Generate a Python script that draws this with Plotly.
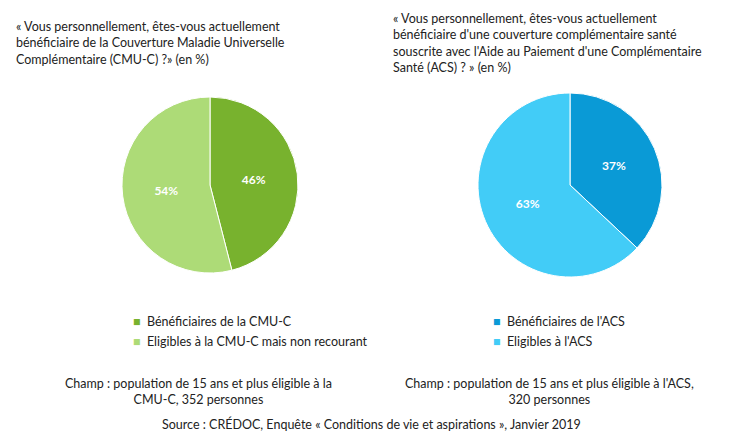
import plotly.graph_objects as go

cmu_labels = ["Bénéficiaires de la CMU-C", "Eligibles à la CMU-C mais non recourant"]
cmu_values = [46, 54]
cmu_colors = ["#78B22E", "#ADDB77"]

acs_labels = ["Bénéficiaires de l'ACS", "Eligibles à l'ACS"]
acs_values = [37, 63]
acs_colors = ["#0A9AD6", "#42CCF7"]

FONT = "Lato, Open Sans, sans-serif"
W, H = 733, 436

fig = go.Figure()
fig.add_trace(go.Pie(values=cmu_values, labels=cmu_labels, marker=dict(colors=cmu_colors, line=dict(color="white", width=1)),
                     sort=False, direction="clockwise", rotation=0, textinfo="percent", texttemplate="<b>%{value}%</b>",
                     textfont=dict(color="white", size=12, family=FONT), showlegend=False,
                     domain=dict(x=[114 / W, 290 / W], y=[1 - 265 / H, 1 - 89 / H])))
fig.add_trace(go.Pie(values=acs_values, labels=acs_labels, marker=dict(colors=acs_colors, line=dict(color="white", width=1)),
                     sort=False, direction="clockwise", rotation=0, textinfo="percent", texttemplate="<b>%{value}%</b>",
                     textfont=dict(color="white", size=12, family=FONT), showlegend=False,
                     domain=dict(x=[470 / W, 654 / W], y=[1 - 269 / H, 1 - 85 / H])))

def txt(x, y, s, size=12.5, align="left", anchor="left"):
    fig.add_annotation(x=x / W, y=1 - y / H, xref="paper", yref="paper", text=s, showarrow=False,
                       xanchor=anchor, yanchor="middle", align=align, font=dict(size=size, color="#222", family=FONT))

txt(6, 35, "« Vous personnellement, êtes-vous actuellement<br>bénéficiaire de la Couverture Maladie Universelle<br>Complémentaire (CMU-C) ?» (en %)")
txt(383, 35, "« Vous personnellement, êtes-vous actuellement<br>bénéficiaire d'une couverture complémentaire santé<br>souscrite avec l'Aide au Paiement d'une Complémentaire<br>Santé (ACS) ? » (en %)")

for i, (lab, col) in enumerate(zip(cmu_labels, cmu_colors)):
    txt(123, 313 + 20 * i, f"<span style='color:{col}'>■</span>  {lab}")
for i, (lab, col) in enumerate(zip(acs_labels, acs_colors)):
    txt(483, 313 + 20 * i, f"<span style='color:{col}'>■</span>  {lab}")

txt(190, 383, "Champ : population de 15 ans et plus éligible à la<br>CMU-C, 352 personnes", align="center", anchor="center")
txt(541, 383, "Champ : population de 15 ans et plus éligible à l'ACS,<br>320 personnes", align="center", anchor="center")
txt(363, 416, "Source : CRÉDOC, Enquête « Conditions de vie et aspirations », Janvier 2019", align="center", anchor="center")

fig.update_layout(width=W, height=H, margin=dict(l=0, r=0, t=0, b=0), paper_bgcolor="white")
fig.write_html("out.html")
